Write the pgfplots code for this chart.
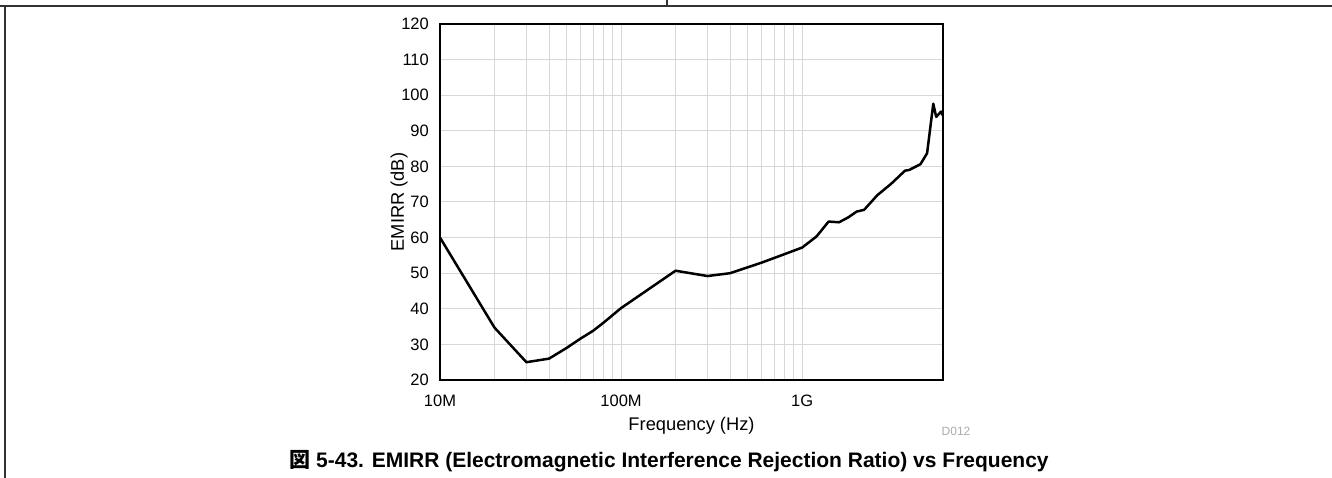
\documentclass[border=0pt]{standalone}
\usepackage{pgfplots}
\pgfplotsset{compat=1.18}
\usepackage{fontspec}
\setmainfont{Liberation Sans}
\newfontfamily\cjk{Noto Sans CJK JP}
\definecolor{gridgray}{RGB}{215,215,215}
\definecolor{framegray}{RGB}{50,50,50}
\begin{document}
\begin{tikzpicture}[x=1pt,y=1pt]
\useasboundingbox (0,0) rectangle (1332,478);
\draw[line width=1.5pt, framegray] (0,472) -- (1332,472);
\draw[line width=1.5pt, framegray] (667,478) -- (667,472);
\draw[line width=1.5pt, framegray] (5,472) -- (5,0);
\begin{axis}[
  at={(440pt,98pt)}, anchor=south west,
  scale only axis, width=503pt, height=356pt,
  xmode=log, xmin=1e7, xmax=6e9, ymin=20, ymax=120,
  ytick={20,30,...,120},
  xtick={1e7,1e8,1e9}, xticklabels={10M,100M,1G},
  xmajorgrids=true, xminorgrids=true, ymajorgrids=true,
  major grid style={draw=gridgray, line width=1pt},
  minor grid style={draw=gridgray, line width=1pt},
  major tick length=0pt, minor tick length=0pt,
  axis line style={line width=2pt},
  /pgf/number format/assume math mode=true,
  tick label style={font=\fontsize{16.5}{19}\selectfont},
  yticklabel style={anchor=east, inner sep=0pt, xshift=-11pt},
  xticklabel style={anchor=base, inner sep=0pt, yshift=-27pt},
  label style={font=\fontsize{18.3}{21}\selectfont},
  xlabel={Frequency (Hz)},
  ylabel={EMIRR (dB)},
  xlabel style={at={(axis description cs:0.5,-0.1424)}, anchor=base, inner sep=0pt},
  ylabel style={at={(axis description cs:-0.0815,0.5)}, anchor=center, inner sep=0pt},
]
\addplot[black, line width=2.5pt, line join=round] coordinates {
(1e7,60) (2e7,34.7) (3e7,25) (4e7,26) (5e7,29) (6e7,31.7) (7e7,33.8) (8e7,36.1) (1e8,40.2)
(2e8,50.7) (3e8,49.2) (4e8,50) (6e8,53) (7.66e8,55) (1e9,57.2) (1.2e9,60.3) (1.4e9,64.5)
(1.6e9,64.3) (1.8e9,65.7) (2e9,67.3) (2.2e9,67.8) (2.6e9,71.9) (3.1e9,75.1) (3.7e9,78.8)
(3.9e9,79.0) (4.5e9,80.6) (4.9e9,83.7) (5.3e9,97.6) (5.5e9,93.9) (5.85e9,95.4) (6e9,94.2)
};
\end{axis}
\node[anchor=base, text=black!33, font=\fontsize{12}{14}\selectfont, inner sep=0pt] at (956,42) {D012};
\node[anchor=base, inner sep=0pt, font=\fontsize{21}{24}\selectfont\bfseries] at (669,10.3) {{\cjk 図} 5-43. EMIRR (Electromagnetic Interference Rejection Ratio) vs Frequency};
\end{tikzpicture}
\end{document}
